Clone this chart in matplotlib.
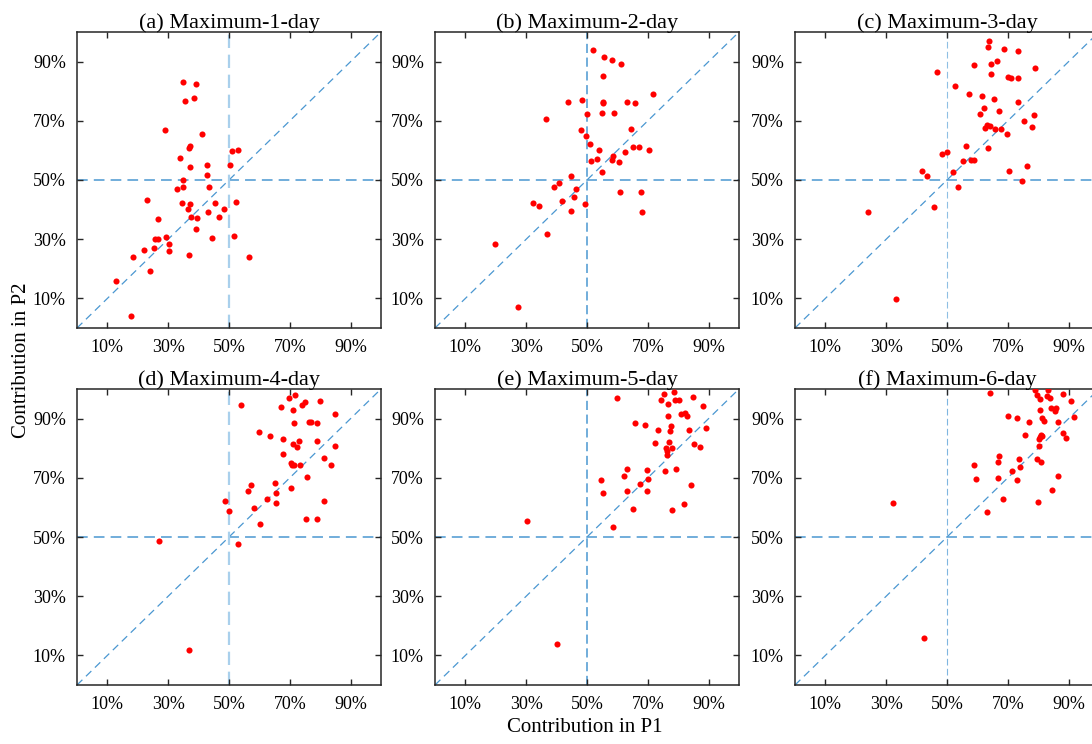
import matplotlib
matplotlib.use("Agg")
import matplotlib.pyplot as plt
import numpy as np

plt.rcParams['font.family'] = ['Liberation Serif', 'DejaVu Serif']

titles = ["(a) Maximum-1-day", "(b) Maximum-2-day", "(c) Maximum-3-day",
          "(d) Maximum-4-day", "(e) Maximum-5-day", "(f) Maximum-6-day"]
tick_vals = [0.1, 0.3, 0.5, 0.7, 0.9]
tick_labels = ["10%", "30%", "50%", "70%", "90%"]

# (a) Maximum-1-day, percent
a_p1 = [34.9, 39.0, 35.4, 38.5, 28.8, 41.1, 37.1, 36.9, 50.9, 53.1, 33.8, 42.6, 37.3, 50.3,
        42.8, 35.0, 43.4, 34.8, 32.9, 23.1, 52.2, 34.5, 37.1, 45.5, 36.5, 48.5, 43.0, 37.5,
        39.5, 46.8, 26.5, 39.1, 29.4, 25.5, 26.6, 44.4, 51.7, 30.3, 22.0, 25.3, 30.3, 36.8,
        18.3, 56.5, 24.0, 12.9, 17.9]
a_p2 = [83.1, 82.4, 76.8, 77.6, 66.8, 65.5, 61.5, 60.8, 59.9, 60.3, 57.5, 55.0, 54.5, 55.0,
        51.7, 50.1, 47.6, 47.8, 47.0, 43.1, 42.7, 42.2, 42.0, 42.1, 40.3, 40.2, 39.3, 37.6,
        37.0, 37.6, 36.9, 33.6, 30.9, 30.2, 29.9, 30.3, 31.0, 28.4, 26.2, 26.9, 26.0, 24.6,
        24.0, 24.1, 19.2, 15.9, 4.0]

# (b) Maximum-2-day
b_p1 = [52.0, 55.5, 58.2, 61.3, 55.1, 71.6, 43.7, 48.5, 55.2, 55.1, 63.3, 65.9, 50.1, 54.8,
        58.9, 36.4, 64.4, 48.1, 49.8, 51.1, 54.1, 65.1, 67.1, 70.4, 62.4, 58.6, 58.1, 53.3,
        51.3, 60.5, 54.8, 44.9, 40.9, 39.1, 46.3, 61.0, 67.8, 45.6, 32.1, 34.3, 41.8, 49.5,
        44.6, 68.2, 36.8, 19.6, 27.4]
b_p2 = [93.9, 91.4, 90.7, 89.3, 85.2, 79.0, 76.3, 77.0, 76.5, 75.9, 76.5, 75.9, 72.4, 72.8,
        72.7, 70.6, 67.1, 66.9, 65.0, 62.0, 60.3, 61.3, 61.2, 60.1, 59.5, 58.2, 56.9, 57.1,
        56.3, 56.0, 52.7, 51.2, 49.0, 47.8, 46.8, 45.8, 45.9, 44.1, 42.1, 41.1, 42.9, 41.9,
        39.4, 39.2, 31.9, 28.4, 7.0]

# (c) Maximum-3-day
c_p1 = [63.8, 63.6, 68.6, 73.5, 58.9, 64.4, 66.5, 79.0, 46.7, 64.4, 70.1, 70.9, 73.5, 52.6,
        57.3, 61.4, 65.4, 73.4, 62.3, 67.0, 60.8, 78.7, 75.3, 63.3, 64.1, 62.5, 65.7, 67.9,
        77.9, 69.9, 56.3, 63.4, 48.4, 50.1, 55.3, 57.8, 58.9, 76.3, 41.9, 43.3, 52.0, 70.5,
        74.8, 53.6, 45.8, 24.0, 33.2]
c_p2 = [96.8, 95.1, 94.2, 93.7, 88.9, 89.3, 90.1, 88.0, 86.6, 85.8, 84.8, 84.5, 84.4, 81.9,
        78.9, 78.5, 77.3, 76.3, 74.4, 73.4, 72.2, 72.1, 70.0, 68.7, 68.4, 67.4, 67.3, 67.1,
        68.0, 65.5, 61.5, 60.7, 58.8, 59.3, 56.4, 56.6, 56.6, 54.6, 53.0, 51.5, 52.8, 52.9,
        49.8, 47.7, 41.0, 39.1, 9.8]

# (d) Maximum-4-day
d_p1 = [71.6, 69.9, 79.8, 75.0, 73.9, 54.0, 67.2, 71.1, 84.8, 71.3, 76.4, 77.0, 79.1, 59.8,
        63.6, 67.9, 72.9, 79.1, 71.0, 72.5, 85.0, 67.8, 81.4, 70.3, 70.6, 71.3, 73.5, 83.7,
        75.5, 65.2, 57.1, 56.2, 65.3, 70.3, 62.5, 65.5, 81.1, 48.8, 58.3, 50.0, 75.2, 79.1,
        60.3, 27.0, 53.0, 36.9]
d_p2 = [98.0, 97.1, 96.0, 95.7, 94.5, 94.6, 93.9, 92.9, 91.6, 88.5, 88.7, 88.8, 88.6, 85.6,
        84.1, 83.0, 82.3, 82.6, 81.3, 80.4, 80.7, 78.0, 76.6, 75.0, 74.4, 74.3, 74.4, 74.4,
        70.3, 68.3, 67.7, 65.7, 65.0, 66.6, 62.8, 61.6, 62.2, 62.2, 59.7, 58.9, 56.2, 56.2,
        54.4, 48.7, 47.5, 11.7]

# (e) Maximum-5-day
e_p1 = [78.6, 75.2, 59.9, 84.8, 74.3, 79.0, 80.2, 76.5, 88.3, 80.9, 82.3, 82.9, 76.6, 65.9,
        69.1, 77.7, 73.2, 77.3, 83.4, 89.0, 76.9, 72.5, 85.3, 87.2, 76.0, 76.2, 77.9, 76.2,
        63.0, 75.6, 79.2, 69.8, 62.1, 54.6, 70.0, 67.5, 84.1, 55.2, 63.2, 69.8, 82.0, 65.1,
        78.1, 58.7, 30.4, 40.1]
e_p2 = [98.9, 98.4, 96.8, 97.2, 96.4, 96.4, 96.4, 95.0, 94.1, 91.5, 92.0, 90.9, 90.8, 88.6,
        87.7, 87.6, 86.0, 85.7, 86.3, 86.7, 82.2, 81.6, 81.5, 80.3, 79.9, 79.2, 79.9, 77.6,
        73.0, 72.3, 72.9, 72.6, 70.7, 69.4, 69.6, 67.9, 67.4, 65.0, 65.5, 65.5, 61.2, 59.4,
        59.2, 53.3, 55.4, 13.8]

# (f) Maximum-6-day
f_p1 = [64.1, 79.0, 83.1, 79.7, 82.9, 88.1, 80.5, 83.8, 90.8, 84.1, 85.8, 80.7, 85.5, 70.0,
        72.9, 81.1, 81.8, 77.1, 86.6, 91.9, 75.6, 81.0, 80.7, 80.1, 81.2, 88.2, 89.2, 80.3,
        67.1, 66.9, 59.0, 73.6, 79.5, 80.9, 74.1, 71.4, 59.5, 66.7, 73.1, 86.4, 84.5, 68.4,
        80.0, 63.1, 32.4, 42.4]
f_p2 = [98.7, 99.7, 99.7, 98.0, 97.8, 98.2, 96.5, 97.0, 96.1, 93.5, 93.7, 92.9, 92.5, 90.9,
        90.1, 90.2, 89.2, 88.9, 88.9, 90.4, 84.6, 84.5, 83.7, 83.1, 84.0, 85.2, 83.3, 80.6,
        77.2, 75.2, 74.2, 76.2, 76.4, 75.2, 73.8, 72.2, 69.6, 70.1, 69.1, 70.6, 66.0, 62.8,
        61.7, 58.3, 61.5, 16.0]

series = [(a_p1, a_p2), (b_p1, b_p2), (c_p1, c_p2),
          (d_p1, d_p2), (e_p1, e_p2), (f_p1, f_p2)]

W, H = 1092, 744
fig = plt.figure(figsize=(W / 100, H / 100), dpi=100)

col_left = [77, 435, 795]
row_top = [32, 389]
aw, ah = 304, 296

line_blue = '#4a97d1'
vstyles = [
    dict(color='#a9d0ec', lw=1.6, dashes=(6, 3)),
    dict(color='#4a97d1', lw=1.1, dashes=(6, 3)),
    dict(color='#8fbfe3', lw=0.8, dashes=(6, 3)),
    dict(color='#a9d0ec', lw=1.6, dashes=(6, 3)),
    dict(color='#4a97d1', lw=1.1, dashes=(6, 3)),
    dict(color='#7fb6e0', lw=0.8, dashes=(6, 3)),
]

for i, (p1, p2) in enumerate(series):
    r, c = divmod(i, 3)
    left = col_left[c] / W
    bottom = 1 - (row_top[r] + ah) / H
    ax = fig.add_axes([left, bottom, aw / W, ah / H])
    x = np.array(p1) / 100.0
    y = np.array(p2) / 100.0
    ax.plot([0, 1], [0, 1], color=line_blue, lw=0.9, dashes=(6, 4), zorder=1)
    ax.axhline(0.5, color='#4a97d1', lw=1.1, dashes=(7, 4), zorder=1)
    ax.axvline(0.5, zorder=1, **vstyles[i])
    ax.plot(x, y, 'o', color='#ff0000', ms=4.4, mec='none', zorder=3)
    ax.set_xlim(0, 1)
    ax.set_ylim(0, 1)
    ax.set_xticks(tick_vals)
    ax.set_yticks(tick_vals)
    ax.set_xticklabels(tick_labels, fontsize=13)
    ax.set_yticklabels(tick_labels, fontsize=13)
    ax.tick_params(direction='in', top=True, right=True, length=4, width=1,
                   color='#262626', pad=8)
    for s in ax.spines.values():
        s.set_color('#262626')
        s.set_linewidth(1.1)
    ax.set_title(titles[i], fontsize=16, pad=3)

fig.text(585 / W, 1 - 728 / H, "Contribution in P1", ha='center', va='center', fontsize=15)
fig.text(22 / W, 1 - 360 / H, "Contribution in P2", ha='center', va='center',
         rotation=90, fontsize=15)

fig.savefig("out.png", dpi=100)
